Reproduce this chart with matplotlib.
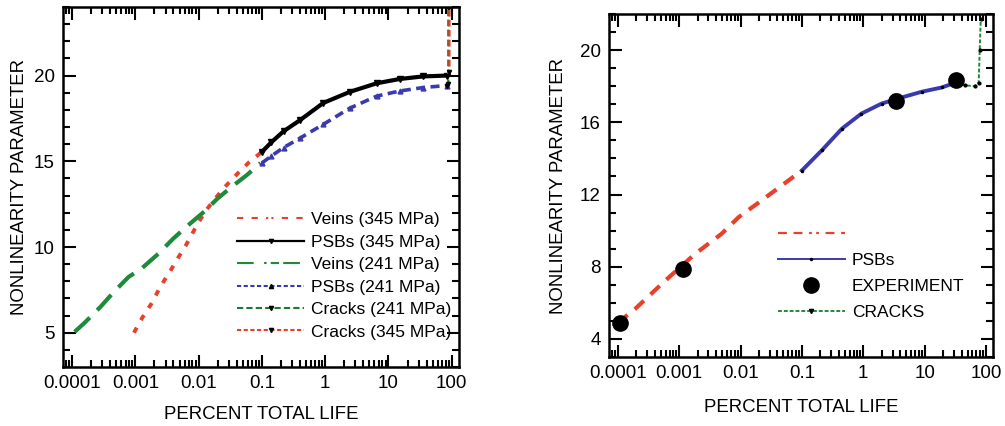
import matplotlib
matplotlib.use("Agg")
import matplotlib.pyplot as plt
from matplotlib.lines import Line2D
from matplotlib.ticker import MultipleLocator, LogLocator, FixedLocator, FixedFormatter, NullFormatter

plt.rcParams['font.family'] = ['Liberation Sans', 'DejaVu Sans']

# ---------------- data: left panel ----------------
veins345_x = [0.00095, 0.0013, 0.0018, 0.0025, 0.0035, 0.0048, 0.0063, 0.0087, 0.0123, 0.018, 0.0275, 0.043, 0.063, 0.1]
veins345_y = [5.0, 5.9, 6.7, 7.7, 8.55, 9.4, 10.1, 11.05, 12.0, 12.8, 13.6, 14.35, 14.95, 15.55]

veins241_x = [0.00011, 0.00016, 0.00028, 0.00045, 0.00078, 0.00126, 0.0023, 0.004, 0.0065, 0.0126, 0.0195, 0.033, 0.058, 0.095]
veins241_y = [5.05, 5.6, 6.5, 7.35, 8.25, 8.75, 9.6, 10.5, 11.2, 12.1, 12.8, 13.5, 14.2, 14.9]

psb_x = [0.1, 0.14, 0.22, 0.4, 0.93, 2.45, 6.5, 15, 35, 83]
psb345_y = [15.55, 16.1, 16.75, 17.4, 18.4, 19.05, 19.55, 19.8, 19.95, 20.0]
psb241_y = [14.9, 15.3, 15.8, 16.35, 17.15, 18.1, 18.8, 19.1, 19.3, 19.42]

cracks241_x = [83, 88, 88]
cracks241_y = [19.42, 19.5, 24.0]
cracks345_x = [83, 92, 92]
cracks345_y = [20.0, 20.2, 24.0]

left_labels = ['Veins (345 MPa)', 'PSBs (345 MPa)', 'Veins (241 MPa)',
               'PSBs (241 MPa)', 'Cracks (241 MPa)', 'Cracks (345 MPa)']

# ---------------- data: right panel ----------------
veins_x = [0.0001, 0.00019, 0.00059, 0.0018, 0.0049, 0.0093, 0.022, 0.047, 0.1]
veins_y = [4.9, 5.65, 7.22, 8.7, 9.82, 10.74, 11.67, 12.5, 13.33]

psbs_x = [0.1, 0.21, 0.45, 0.93, 2.0, 3.7, 8.9, 19, 32]
psbs_y = [13.33, 14.44, 15.65, 16.48, 17.04, 17.32, 17.69, 17.93, 18.2]

exp_x = [0.00011, 0.00115, 3.4, 32]
exp_y = [4.9, 7.9, 17.2, 18.35]
exp_err = [0.0, 0.0, 0.35, 0.0]

cracks_x = [32, 45, 65, 76, 79, 82]
cracks_y = [18.2, 18.05, 18.0, 18.2, 20.0, 21.7]

right_labels = [' ', 'PSBs', 'EXPERIMENT', 'CRACKS']

xtick_vals = [0.0001, 0.001, 0.01, 0.1, 1, 10, 100]
xtick_labels = ['0.0001', '0.001', '0.01', '0.1', '1', '10', '100']

RED = '#e8402a'
GREEN = '#1f8a3c'
DGREEN = '#1c7a34'
BLUE = '#3a3aae'

fig = plt.figure(figsize=(10.05, 4.26), dpi=100)
ax1 = fig.add_axes([63/1005, 1-367/426, 396/1005, 360/426])
ax2 = fig.add_axes([609/1005, 1-357/426, 384/1005, 343/426])


def style_axes(ax, ylim, ymajor, xpad, ypad):
    ax.set_xscale('log')
    ax.set_xlim(7.2e-5, 130)
    ax.set_ylim(*ylim)
    ax.xaxis.set_major_locator(FixedLocator(xtick_vals))
    ax.xaxis.set_major_formatter(FixedFormatter(xtick_labels))
    ax.xaxis.set_minor_locator(LogLocator(base=10, subs=range(2, 10), numticks=20))
    ax.xaxis.set_minor_formatter(NullFormatter())
    ax.yaxis.set_major_locator(MultipleLocator(ymajor))
    ax.yaxis.set_minor_locator(MultipleLocator(1))
    ax.tick_params(which='both', direction='in', top=True, right=True,
                   labelsize=13.5, width=1.5, colors='black')
    ax.tick_params(which='major', length=9, pad=6)
    ax.tick_params(which='minor', length=5)
    for s in ax.spines.values():
        s.set_linewidth(1.8)
    ax.set_xlabel('PERCENT TOTAL LIFE', fontsize=13.4, labelpad=xpad)
    ax.set_ylabel('NONLINEARITY PARAMETER', fontsize=13.4, labelpad=ypad)


# ---------------- left panel ----------------
ax1.plot(veins345_x, veins345_y, color=RED, lw=2.8, dashes=(1.5, 2.2))
ax1.plot(psb_x, psb345_y, color='black', lw=3.0, marker='v', ms=4)
ax1.plot(veins241_x, veins241_y, color=GREEN, lw=3.0, dashes=(5, 2.5))
ax1.plot(psb_x, psb241_y, color=BLUE, lw=2.6, dashes=(2.5, 1.5), marker='^', ms=3.5)
ax1.plot(cracks241_x, cracks241_y, color=DGREEN, lw=1.6, dashes=(3, 1.5), marker='v', ms=3, mfc='black', mec='black')
ax1.plot(cracks345_x, cracks345_y, color=RED, lw=1.6, dashes=(3, 1.5), marker='v', ms=3, mfc='black', mec='black')
style_axes(ax1, (3, 24), 5, 10, 4)

left_handles = [
    Line2D([], [], color=RED, lw=1.5, dashes=(3, 4, 3, 4, 1, 1.5, 1, 4)),
    Line2D([], [], color='black', lw=1.6, marker='v', ms=3),
    Line2D([], [], color=GREEN, lw=1.5, dashes=(8, 5, 1.2, 2, 4, 2)),
    Line2D([], [], color=BLUE, lw=1.5, dashes=(2, 1.2), marker='^', ms=3, mfc='black', mec='black'),
    Line2D([], [], color=DGREEN, lw=1.5, dashes=(3, 1.5), marker='v', ms=3, mfc='black', mec='black'),
    Line2D([], [], color=RED, lw=1.5, dashes=(2, 1.2), marker='v', ms=3, mfc='black', mec='black'),
]
ax1.legend(left_handles, left_labels, loc='upper left', bbox_to_anchor=(0.44, 0.43),
           frameon=False, fontsize=12.5, borderpad=0, borderaxespad=0,
           handlelength=3.85, handletextpad=0.4, labelspacing=0.42)

# ---------------- right panel ----------------
ax2.plot(veins_x, veins_y, color=RED, lw=3.0, dashes=(3, 2.2))
ax2.plot(psbs_x, psbs_y, color=BLUE, lw=2.8, marker='.', ms=3, mfc='black', mec='black')
ax2.errorbar(exp_x, exp_y, yerr=exp_err, fmt='o', color='black', ms=11, capsize=3, elinewidth=1.5, zorder=5)
ax2.plot(cracks_x, cracks_y, color=GREEN, lw=1.4, dashes=(2, 1), marker='.', ms=4, mfc='black', mec='black')
style_axes(ax2, (3, 22), 4, 12, 9)

right_handles = [
    Line2D([], [], color=RED, lw=1.6, dashes=(4, 3, 4, 3, 1.2, 2, 1.2, 3, 4, 3)),
    Line2D([], [], color=BLUE, lw=1.4, marker='.', ms=3, mfc='black', mec='black'),
    Line2D([], [], color='black', lw=0, marker='o', ms=11),
    Line2D([], [], color=GREEN, lw=1.4, dashes=(2, 1), marker='v', ms=3, mfc='black', mec='black'),
]
ax2.legend(right_handles, right_labels, loc='upper left', bbox_to_anchor=(0.44, 0.38),
           frameon=False, fontsize=12.5, borderpad=0, borderaxespad=0,
           handlelength=3.85, handletextpad=0.4, labelspacing=0.63)

fig.savefig('out.png', dpi=100)
